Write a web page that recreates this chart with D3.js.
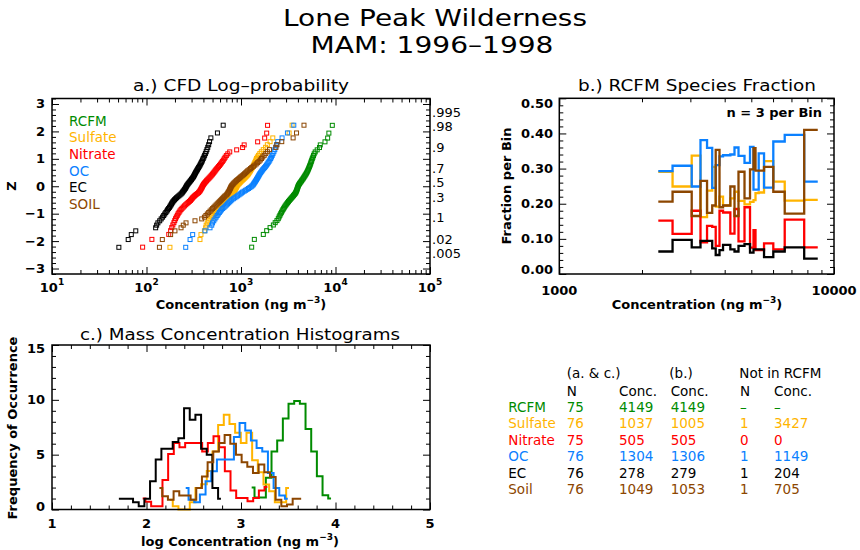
<!DOCTYPE html>
<html>
<head>
<meta charset="utf-8">
<script src="https://cdn.jsdelivr.net/npm/d3@7"></script>
<style>
body { margin: 0; background: #fff; }
text { font-family: "DejaVu Sans", sans-serif; }
</style>
</head>
<body>
<svg id="chart" width="860" height="550"></svg>
<script>
// species colours (same order everywhere)
const speciesNames = ["RCFM", "Sulfate", "Nitrate", "OC", "EC", "Soil"];
const speciesColours = ["#008b00", "#ffb400", "#ff0000", "#0a80ff", "#000000", "#8c4600"];
const legendNames = ["RCFM", "Sulfate", "Nitrate", "OC", "EC", "SOIL"];

// a.) sorted concentrations (ng m-3)
const rcfmConc = [1297,1384,1722,1870,2030,2200,2300,2400,2480,2530,
  2580,2630,2680,2730,2780,2830,2880,2940,3000,3060,
  3120,3180,3250,3320,3390,3460,3530,3600,3670,3740,
  3790,3830,3870,3900,3930,3960,3990,4020,
  4060,4110,4170,4230,4300,4370,4440,4510,4580,4650,4720,4790,
  4860,4930,5000,5060,5120,5180,5240,5300,5360,5420,
  5480,5540,5600,5680,5760,5850,5950,6100,
  6400,6770,6900,7740,8260,8510,9250];
const sulfateConc = [177,368,377,410,423,428,440,455,470,490,
  505,520,535,550,565,580,595,610,625,640,
  655,670,685,700,715,730,750,770,790,810,
  825,840,850,860,870,880,890,900,
  910,925,945,965,985,1005,1030,1055,1080,1105,1130,1155,
  1180,1200,1220,1240,1260,1280,1300,1320,1340,1360,
  1380,1400,1420,1440,1460,1490,1530,1580,1640,1720,
  1820,1900,2030,2170,3230,3470];
const nitrateConc = [91,114,172,180,
  185,190,195,199,203,207,
  212,216,221,226,232,238,245,252,260,268,
  276,284,292,298,304,310,318,326,335,345,
  355,362,368,373,378,383,387,391,
  396,402,408,415,423,431,440,450,460,470,480,490,
  500,510,520,530,540,552,565,578,592,606,
  620,635,650,665,680,700,725,760,
  900,1040,1080,1500,1780,1870,1910];
const ocConc = [260,289,308,416,
  470,490,500,515,530,545,
  560,575,590,605,620,640,660,680,700,720,
  740,760,780,800,830,860,890,920,950,980,
  1010,1040,1080,1120,1160,1200,1240,1280,
  1310,1340,1360,1380,1400,1420,1440,1460,1480,1500,1520,1540,
  1560,1580,1610,1640,1670,1700,1740,1780,1820,1860,
  1900,1940,1980,2020,2060,2100,2140,2180,2230,2280,
  2330,2380,2450,2720,3100,3620];
const ecConc = [51,64,69,77,
  125,128,132,138,143,148,
  152,156,160,164,167,171,175,178,181,184,
  187,190,194,198,203,208,214,220,226,232,
  237,241,245,249,253,257,260,263,
  266,270,274,279,284,289,294,299,304,309,314,318,
  322,326,330,335,340,345,350,356,362,368,
  374,380,386,392,398,405,412,420,428,436,
  445,455,465,480,563,648];
const soilConc = [137,147,180,200,232,245,262,326,384,410,
  425,440,455,470,485,500,515,530,545,560,
  575,590,605,620,635,650,665,680,700,715,
  725,735,745,755,762,770,778,785,
  795,810,825,840,860,880,900,925,950,975,1000,1030,
  1060,1090,1120,1150,1180,1220,1260,1300,1350,1400,
  1450,1500,1550,1600,1650,1700,1760,1830,1900,2000,
  2340,2400,2700,3560,3870,4640];
const concBySpecies = [rcfmConc, sulfateConc, nitrateConc, ocConc, ecConc, soilConc];

const aXTicks = [1e1, 1e2, 1e3, 1e4, 1e5];
const aXExponents = ["1", "2", "3", "4", "5"];
const aZTicks = [-3, -2, -1, 0, 1, 2, 3];
const probLabels = [".995", ".98", ".9", ".7", ".5", ".3", ".1", ".02", ".005"];
const probValues = [0.995, 0.98, 0.9, 0.7, 0.5, 0.3, 0.1, 0.02, 0.005];

// b.) RCFM bins (n = 3 per bin): bin edges and species fraction per bin
const binEdges = [2293,2584,3034,3266,3450,3603,3710,3830,3945,4194,4343,
  4491,4723,4946,5093,5179,5320,5563,6012,6616,7789,8727];
const fracSulfate = [0.291,0.249,0.337,0.162,0.237,0.305,0.192,0.22,0.195,0.215,0.234,
  0.208,0.198,0.205,0.21,0.23,0.232,0.321,0.263,0.209,0.211];
const fracNitrate = [0.152,0.114,0.180,0.090,0.137,0.134,0.080,0.180,0.175,0.115,0.185,
  0.093,0.190,0.075,0.125,0.068,0.068,0.087,0.070,0.155,0.076];
const fracOC = [0.293,0.308,0.249,0.381,0.359,0.245,0.31,0.335,0.338,0.34,0.36,
  0.336,0.316,0.362,0.24,0.24,0.343,0.246,0.377,0.396,0.263];
const fracEC = [0.064,0.097,0.076,0.094,0.094,0.073,0.054,0.068,0.083,0.070,0.064,
  0.080,0.085,0.061,0.070,0.070,0.070,0.048,0.064,0.076,0.044];
const fracSoil = [0.206,0.234,0.165,0.265,0.174,0.195,0.353,0.19,0.195,0.249,0.165,
  0.291,0.215,0.298,0.358,0.294,0.294,0.305,0.234,0.172,0.41];
const fracBySpecies = [null, fracSulfate, fracNitrate, fracOC, fracEC, fracSoil];
const bYTicks = [0, 0.1, 0.2, 0.3, 0.4, 0.5];
const bXTicks = [1000, 10000];

// c.) histogram counts of log concentration, bins of 0.06 starting at each minimum
const histBin = 0.06;
const histRCFM = [2.0,1.1,1.1,2.9,5.3,6.3,8.3,9.64,9.9,9.64,7.33,5.3,3.03,1.3,1.0];
const histSulfate = [0.9,0.3,0,0,0.67,1.97,2.3,3.5,5.3,7.7,8.64,7.8,7.0,6.06,7.0,4.5,3.4,2.27,1.67,0.67,0.67,1.97];
const histNitrate = [1.0,0.7,0.3,0.3,2.7,5.06,6.06,5.67,6.06,6.06,6.06,5.3,6.06,6.67,5.67,3.48,1.73,1.06,1.06,0.76,1.06,1.73,2.06];
const histOC = [1.97,0.9,0.67,1.36,2.58,3.48,4.55,4.55,4.55,6.6,7.88,7.2,6.3,5.6,5.3,3.33,1.97,1.27,0.97];
const histEC = [0.97,0.97,0.97,0.67,0.3,0.97,2.58,4.55,5.55,5.55,6.15,6.5,9.24,8.18,8.64,5.55,5.0,1.97,0.97];
const histSoil = [1.97,1.21,0.9,1.67,1.27,1.27,0.9,1.97,3.0,4.3,5.3,6.06,6.8,6.0,5.0,4.3,3.9,3.33,4.1,3.4,2.97,0.9,0.3,0.45,0.97,0.97];
const histBySpecies = [histRCFM, histSulfate, histNitrate, histOC, histEC, histSoil];
const cXTicks = [1, 2, 3, 4, 5];
const cYTicks = [0, 5, 10, 15];

// summary table
const tableN = ["75", "76", "75", "76", "76", "76"];
const tableConcAC = ["4149", "1037", "505", "1304", "278", "1049"];
const tableConcB = ["4149", "1005", "505", "1306", "279", "1053"];
const tableNotN = ["\u2013", "1", "0", "1", "1", "1"];
const tableNotConc = ["\u2013", "3427", "0", "1149", "204", "705"];

// inverse normal cdf (Acklam) for the probability axis
function norminv(p) {
  const a = [-3.969683028665376e+01, 2.209460984245205e+02, -2.759285104469687e+02, 1.383577518672690e+02, -3.066479806614716e+01, 2.506628277459239e+00];
  const b = [-5.447609879822406e+01, 1.615858368580409e+02, -1.556989798598866e+02, 6.680131188771972e+01, -1.328068155288572e+01];
  const c = [-7.784894002430293e-03, -3.223964580411365e-01, -2.400758277161838e+00, -2.549671010243888e+00, 4.374664141464968e+00, 2.938163982698783e+00];
  const d = [7.784695709041462e-03, 3.224671290700398e-01, 2.445134137142996e+00, 3.754408661907416e+00];
  const pl = 0.02425;
  if (p < pl) {
    const q = Math.sqrt(-2 * Math.log(p));
    return (((((c[0]*q+c[1])*q+c[2])*q+c[3])*q+c[4])*q+c[5]) / ((((d[0]*q+d[1])*q+d[2])*q+d[3])*q+1);
  }
  if (p > 1 - pl) return -norminv(1 - p);
  const q = p - 0.5, r = q * q;
  return (((((a[0]*r+a[1])*r+a[2])*r+a[3])*r+a[4])*r+a[5])*q / (((((b[0]*r+b[1])*r+b[2])*r+b[3])*r+b[4])*r+1);
}

const svg = d3.select("#chart");

function txt(x, y, s, opts = {}) {
  const t = svg.append("text").attr("x", x).attr("y", y).text(s)
    .attr("font-size", opts.size || 13)
    .attr("font-weight", opts.bold ? "bold" : "normal")
    .attr("fill", opts.fill || "#000")
    .attr("text-anchor", opts.anchor || "start");
  if (opts.len) t.attr("textLength", opts.len).attr("lengthAdjust", "spacingAndGlyphs");
  if (opts.rotate) t.attr("transform", `rotate(-90,${x},${y})`);
  return t;
}

// box with inward ticks on all four sides
function frame(x, y, box, xMajor, xMinor, yMajor, yMinor) {
  const g = svg.append("g");
  const put = (axis, tr) => g.append("g").attr("transform", tr).call(axis)
    .call(s => s.select(".domain").remove())
    .call(s => s.selectAll("line").attr("stroke", "#000").attr("stroke-width", 1));
  put(d3.axisBottom(x).tickValues(xMajor).tickSize(-7).tickFormat(""), `translate(0,${box.y1})`);
  put(d3.axisBottom(x).tickValues(xMinor).tickSize(-4).tickFormat(""), `translate(0,${box.y1})`);
  put(d3.axisTop(x).tickValues(xMajor).tickSize(-7).tickFormat(""), `translate(0,${box.y0})`);
  put(d3.axisTop(x).tickValues(xMinor).tickSize(-4).tickFormat(""), `translate(0,${box.y0})`);
  put(d3.axisLeft(y).tickValues(yMajor).tickSize(-7).tickFormat(""), `translate(${box.x0},0)`);
  put(d3.axisLeft(y).tickValues(yMinor).tickSize(-4).tickFormat(""), `translate(${box.x0},0)`);
  put(d3.axisRight(y).tickValues(yMajor).tickSize(-7).tickFormat(""), `translate(${box.x1},0)`);
  put(d3.axisRight(y).tickValues(yMinor).tickSize(-4).tickFormat(""), `translate(${box.x1},0)`);
  g.append("rect").attr("x", box.x0).attr("y", box.y0)
    .attr("width", box.x1 - box.x0).attr("height", box.y1 - box.y0)
    .attr("fill", "none").attr("stroke", "#000").attr("stroke-width", 1.5);
}

const logMinor = (lo, hi) => {
  const out = [];
  for (let dec = lo; dec < hi; dec *= 10) for (let m = 2; m <= 9; m++) out.push(dec * m);
  return out;
};

// main titles
txt(435, 25.5, "Lone Peak Wilderness", {size: 23, anchor: "middle", len: 304});
txt(432, 53, "MAM: 1996\u20131998", {size: 23, anchor: "middle", len: 243});

// ---------- a.) CFD log-probability ----------
const aBox = {x0: 52, x1: 430, y0: 98.5, y1: 274};
const ax = d3.scaleLog().domain([10, 1e5]).range([aBox.x0, aBox.x1]);
const ay = d3.scaleLinear().domain([-3.2, 3.2]).range([aBox.y1, aBox.y0]);

concBySpecies.forEach((conc, k) => {
  const n = conc.length;
  svg.append("g").selectAll("rect").data(conc).join("rect")
    .attr("x", d => ax(d) - 2).attr("y", (d, i) => ay(norminv((i + 1) / (n + 1))) - 2)
    .attr("width", 4).attr("height", 4)
    .attr("fill", "none").attr("stroke", speciesColours[k]).attr("stroke-width", 1);
});

const zMinor = d3.range(-3.2, 3.21, 0.2).filter(v => Math.abs(v - Math.round(v)) > 0.01);
frame(ax, ay, aBox, aXTicks, logMinor(10, 1e5), aZTicks, zMinor);

aZTicks.forEach(v => txt(45, ay(v) + 4.5, v < 0 ? "\u2212" + Math.abs(v) : String(v), {bold: true, anchor: "end"}));
aXTicks.forEach((v, i) => {
  const t = txt(ax(v), 292, "10", {bold: true, anchor: "middle"});
  t.append("tspan").attr("dy", -7).attr("font-size", 9).text(aXExponents[i]);
});
probValues.forEach((p, i) => txt(432, ay(norminv(p)) + 1, probLabels[i], {size: 13}));
legendNames.forEach((s, i) => txt(69, 125.5 + i * 16.7, s, {size: 13.5, fill: speciesColours[i]}));

txt(241, 91, "a.) CFD Log\u2013probability", {size: 16.5, anchor: "middle", len: 216});
{
  const t = txt(241, 309, "Concentration (ng m", {bold: true, anchor: "middle"});
  t.append("tspan").attr("dy", -6).attr("font-size", 9).text("\u22123");
  t.append("tspan").attr("dy", 6).text(")");
}
txt(16, 186, "Z", {bold: true, anchor: "middle", rotate: true});

// ---------- b.) RCFM species fraction ----------
const bBox = {x0: 559.3, x1: 834, y0: 98.3, y1: 274};
const bx = d3.scaleLog().domain([1000, 10000]).range([bBox.x0, bBox.x1]);
const by = d3.scaleLinear().domain([0, 0.5]).range([bBox.y1, bBox.y0]);
const stepLine = d3.line().x(d => bx(d[0])).y(d => by(d[1])).curve(d3.curveStepAfter);

fracBySpecies.forEach((frac, k) => {
  if (!frac) return;
  const pts = frac.map((v, i) => [binEdges[i], v]);
  pts.push([binEdges[binEdges.length - 1], frac[frac.length - 1]]);
  svg.append("path").attr("d", stepLine(pts)).attr("fill", "none")
    .attr("stroke", speciesColours[k]).attr("stroke-width", 2.3);
});

frame(bx, by, bBox, bXTicks, logMinor(1000, 10000),
  bYTicks, d3.range(0.02, 0.5, 0.02).filter(v => Math.abs(v * 10 - Math.round(v * 10)) > 0.01));
bYTicks.forEach((v, i) => {
  const nudge = i === 0 ? -4.5 : (i === bYTicks.length - 1 ? 5 : 0);
  txt(553, by(v) + 4.5 + nudge, v.toFixed(2), {bold: true, anchor: "end"});
});
bXTicks.forEach(v => txt(bx(v), 295, String(v), {bold: true, anchor: "middle"}));
txt(822, 117, "n = 3 per Bin", {bold: true, anchor: "end"});
txt(697, 91, "b.) RCFM Species Fraction", {size: 16.5, anchor: "middle", len: 238});
{
  const t = txt(697, 309, "Concentration (ng m", {bold: true, anchor: "middle"});
  t.append("tspan").attr("dy", -6).attr("font-size", 9).text("\u22123");
  t.append("tspan").attr("dy", 6).text(")");
}
txt(511, 186, "Fraction per Bin", {bold: true, anchor: "middle", rotate: true});

// ---------- c.) mass concentration histograms ----------
const cBox = {x0: 52, x1: 430, y0: 345, y1: 509.5};
const cx = d3.scaleLinear().domain([1, 5]).range([cBox.x0, cBox.x1]);
const cy = d3.scaleLinear().domain([0, 15]).range([cBox.y1, cBox.y0]);
const histLine = d3.line().x(d => cx(d[0])).y(d => cy(d[1])).curve(d3.curveStep);

histBySpecies.forEach((counts, k) => {
  const start = Math.log10(d3.min(concBySpecies[k]));
  const pts = counts.map((v, i) => [start + i * histBin, v]);
  svg.append("path").attr("d", histLine(pts)).attr("fill", "none")
    .attr("stroke", speciesColours[k]).attr("stroke-width", 2);
});

frame(cx, cy, cBox, cXTicks, d3.range(1.2, 5, 0.2).filter(v => Math.abs(v - Math.round(v)) > 0.01),
  cYTicks, d3.range(1, 15, 1).filter(v => v % 5 !== 0));
cYTicks.forEach((v, i) => {
  const nudge = i === 0 ? -3 : (i === cYTicks.length - 1 ? 3 : 0);
  txt(45, cy(v) + 4.5 + nudge, String(v), {bold: true, anchor: "end"});
});
cXTicks.forEach(v => txt(cx(v), 528, String(v), {bold: true, anchor: "middle"}));
txt(240, 340, "c.) Mass Concentration Histograms", {size: 16.5, anchor: "middle", len: 320});
{
  const t = txt(240, 546, "log Concentration (ng m", {bold: true, anchor: "middle"});
  t.append("tspan").attr("dy", -6).attr("font-size", 9).text("\u22123");
  t.append("tspan").attr("dy", 6).text(")");
}
txt(17, 428, "Frequency of Occurrence", {bold: true, anchor: "middle", rotate: true});

// ---------- summary table ----------
const colX = {name: 508.3, n: 566.7, concAC: 619, concB: 670.7, notN: 740, notConc: 774};
txt(colX.n, 378, "(a. & c.)", {size: 13.5});
txt(669.3, 378, "(b.)", {size: 13.5});
txt(739.3, 378, "Not in RCFM", {size: 13.5});
txt(colX.n, 395.5, "N", {size: 13.5});
txt(colX.concAC, 395.5, "Conc.", {size: 13.5});
txt(colX.concB, 395.5, "Conc.", {size: 13.5});
txt(colX.notN, 395.5, "N", {size: 13.5});
txt(colX.notConc, 395.5, "Conc.", {size: 13.5});
speciesNames.forEach((s, i) => {
  const y = 411.7 + i * 16.55;
  const o = {size: 13.5, fill: speciesColours[i]};
  txt(colX.name, y, s, o);
  txt(colX.n, y, tableN[i], o);
  txt(colX.concAC, y, tableConcAC[i], o);
  txt(colX.concB, y, tableConcB[i], o);
  txt(colX.notN, y, tableNotN[i], o);
  txt(colX.notConc, y, tableNotConc[i], o);
});
</script>
</body>
</html>
